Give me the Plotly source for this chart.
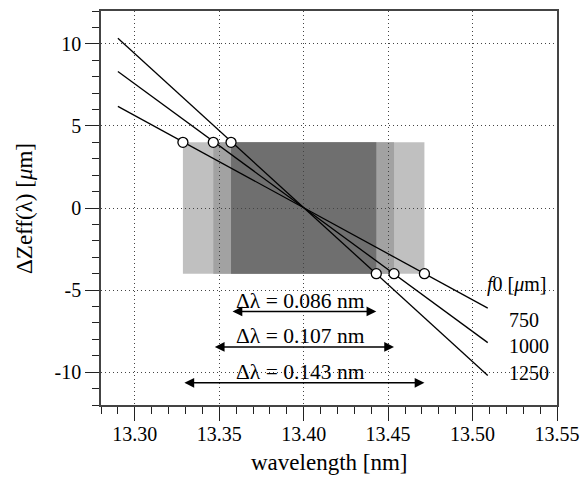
import plotly.graph_objects as go

# ---- data ----
f0_um = [750, 1000, 1250]
line_x = [13.29, 13.509]
line_z = {750: [6.19, -6.10], 1000: [8.32, -8.20], 1250: [10.34, -10.20]}
z_limit = [4.0, -4.0]
lam_lo = {750: 13.3285, 1000: 13.3465, 1250: 13.357}
lam_hi = {750: 13.4715, 1000: 13.4535, 1250: 13.443}
dlam_nm = {750: "0.143", 1000: "0.107", 1250: "0.086"}
band_colors = {750: "#c0c0c0", 1000: "#a2a2a2", 1250: "#6f6f6f"}

x_ticks = [13.30, 13.35, 13.40, 13.45, 13.50, 13.55]
y_ticks = [-10, -5, 0, 5, 10]
y_tick_text = ["-10", "-5", "0", "5", "10"]

FONT = "Liberation Serif"

fig = go.Figure()

# shaded tolerance bands
for f in f0_um:
    fig.add_shape(type="rect", xref="x", yref="y",
                  x0=lam_lo[f], x1=lam_hi[f], y0=z_limit[1], y1=z_limit[0],
                  fillcolor=band_colors[f], line=dict(width=0), layer="below")

# lines
for f in f0_um:
    fig.add_trace(go.Scatter(x=line_x, y=line_z[f], mode="lines",
                             line=dict(color="black", width=1.3),
                             showlegend=False, hoverinfo="skip"))
# circles
for f in f0_um:
    fig.add_trace(go.Scatter(x=[lam_lo[f], lam_hi[f]], y=z_limit, mode="markers",
                             marker=dict(size=10, color="white",
                                         line=dict(color="black", width=1.3)),
                             showlegend=False, hoverinfo="skip"))

# Δλ arrows and labels
arrow_y = {1250: -6.30, 1000: -8.46, 750: -10.65}
text_y = {1250: -5.69, 1000: -7.82, 750: -9.98}
for f in f0_um:
    fig.add_annotation(x=lam_hi[f], y=arrow_y[f], ax=lam_lo[f], ay=arrow_y[f],
                       xref="x", yref="y", axref="x", ayref="y", text="",
                       showarrow=True, arrowhead=2, startarrowhead=2,
                       arrowside="end+start", arrowsize=1.3, startarrowsize=1.3,
                       arrowwidth=1.5, arrowcolor="black")
    fig.add_annotation(x=13.398, y=text_y[f], xref="x", yref="y",
                       text="Δλ = %s nm" % dlam_nm[f], showarrow=False,
                       font=dict(family=FONT, size=21.5, color="black"),
                       xanchor="center", yanchor="middle")

# f0 labels
fig.add_annotation(x=13.5074, y=-4.68, xref="x", yref="y",
                   text="<i>f</i>0 [<i>μ</i>m]", showarrow=False,
                   font=dict(family=FONT, size=20, color="black"),
                   xanchor="left", yanchor="middle")
label_y = {750: -6.80, 1000: -8.38, 1250: -10.02}
for f in f0_um:
    fig.add_annotation(x=13.5205, y=label_y[f], xref="x", yref="y",
                       text=str(f), showarrow=False,
                       font=dict(family=FONT, size=20, color="black"),
                       xanchor="left", yanchor="middle")

# axis titles
fig.add_annotation(x=0.5, y=-0.1447, xref="paper", yref="paper",
                   text="wavelength [nm]", showarrow=False,
                   font=dict(family=FONT, size=23, color="black"),
                   xanchor="center", yanchor="middle")
fig.add_annotation(x=-0.169, y=0.5, xref="paper", yref="paper",
                   text="ΔZeff(λ) [<i>μ</i>m]", showarrow=False, textangle=-90,
                   font=dict(family=FONT, size=23, color="black"),
                   xanchor="center", yanchor="middle")

axis_common = dict(showline=True, linecolor="#444444", linewidth=1.5, mirror=True,
                   ticks="outside", ticklen=14, tickwidth=1.3, tickcolor="#222222",
                   showgrid=True, gridcolor="#444444", gridwidth=1, griddash="1px,3px",
                   zeroline=False, automargin=False,
                   tickfont=dict(family=FONT, size=20, color="black"))

fig.update_xaxes(range=[13.28, 13.55], tickvals=x_ticks,
                 ticktext=["%.2f" % v for v in x_ticks], ticklabelstandoff=-4,
                 minor=dict(dtick=0.01, tick0=13.30, ticks="outside", ticklen=7,
                            tickwidth=1.3, tickcolor="#222222", showgrid=False),
                 **axis_common)
fig.update_yaxes(range=[-12, 12], tickvals=y_ticks, ticktext=y_tick_text,
                 minor=dict(dtick=1, tick0=0, ticks="outside", ticklen=7,
                            tickwidth=1.3, tickcolor="#222222", showgrid=False),
                 **axis_common)

fig.update_layout(width=582, height=483,
                  margin=dict(l=101, r=25, t=11, b=78),
                  plot_bgcolor="white", paper_bgcolor="white",
                  font=dict(family=FONT),
                  showlegend=False)

fig.write_html("out.html", config={"displayModeBar": False},
               post_script="document.body.style.margin='0';")
